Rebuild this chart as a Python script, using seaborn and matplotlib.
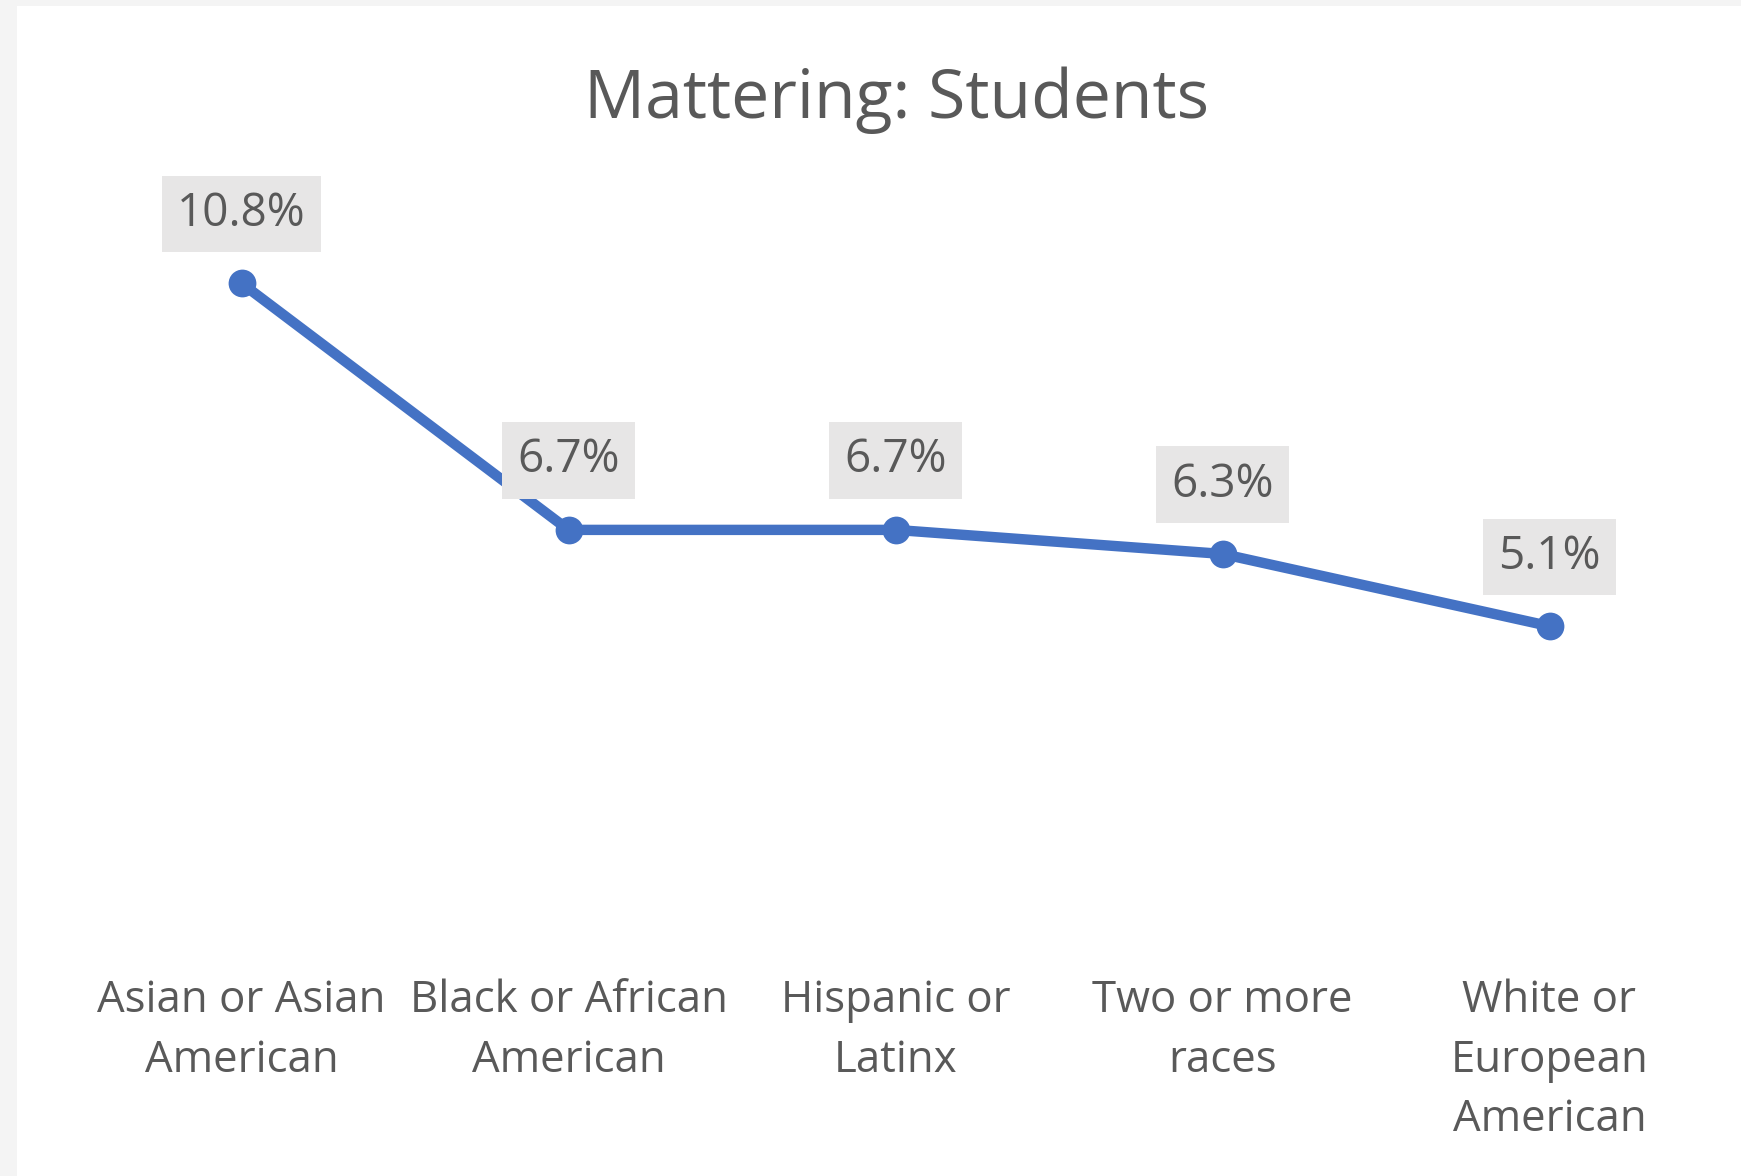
import numpy as np
import pandas as pd
import matplotlib
matplotlib.use("Agg")
import matplotlib.pyplot as plt
import seaborn as sns

# =========================
# data
# =========================
categories = [
    "Asian or Asian\nAmerican",
    "Black or African\nAmerican",
    "Hispanic or\nLatinx",
    "Two or more\nraces",
    "White or\nEuropean\nAmerican",
]
values = [10.8, 6.7, 6.7, 6.3, 5.1]
value_labels = ["10.8%", "6.7%", "6.7%", "6.3%", "5.1%"]
title = "Mattering: Students"

LINE_COLOR = "#4472C4"
TEXT_COLOR = "#595959"
BOX_COLOR = "#E7E6E6"

sns.set_style("white")
plt.rcParams["font.family"] = ["Open Sans", "DejaVu Sans"]

df = pd.DataFrame({"group": categories, "pct": values})

fig = plt.figure(figsize=(17.41, 11.76), dpi=100, facecolor="#F4F4F4")
# white chart area (thin grey frame on left / top like the screenshot)
fig.patches.append(plt.Rectangle((17 / 1741, 0), 1, 1 - 6 / 1176,
                                 transform=fig.transFigure,
                                 facecolor="white", edgecolor="none", zorder=-10))

ax = fig.add_axes([78 / 1741, 1 - 933 / 1176, (1713 - 78) / 1741, (933 - 211) / 1176])
ax.set_facecolor("none")
ax.set_zorder(5)

sns.lineplot(data=df, x="group", y="pct", sort=False, ax=ax,
             color=LINE_COLOR, linewidth=7.5, marker="o", markersize=20,
             markeredgewidth=0, solid_capstyle="round")

for i, (v, lab) in enumerate(zip(values, value_labels)):
    ax.annotate(lab, (i, v), xytext=(0, 50), textcoords="offset points",
                ha="center", va="center", fontsize=33, color=TEXT_COLOR,
                bbox=dict(boxstyle="square,pad=0.33", facecolor=BOX_COLOR,
                          edgecolor="none"))

ax.set_xlim(-0.5, len(categories) - 0.5)
ax.set_ylim(0, 12)
ax.set_yticks([])
ax.set_xlabel("")
ax.set_ylabel("")
ax.tick_params(axis="x", length=0, pad=33, labelsize=31.5, labelcolor=TEXT_COLOR)
for t in ax.get_xticklabels():
    t.set_multialignment("center")
    t.set_linespacing(1.45)
sns.despine(ax=ax, left=True, bottom=True)

fig.text(896 / 1741, 1 - 100 / 1176, title, ha="center", va="center",
         fontsize=49, color=TEXT_COLOR)

fig.savefig("out.png", dpi=100, facecolor=fig.get_facecolor())
